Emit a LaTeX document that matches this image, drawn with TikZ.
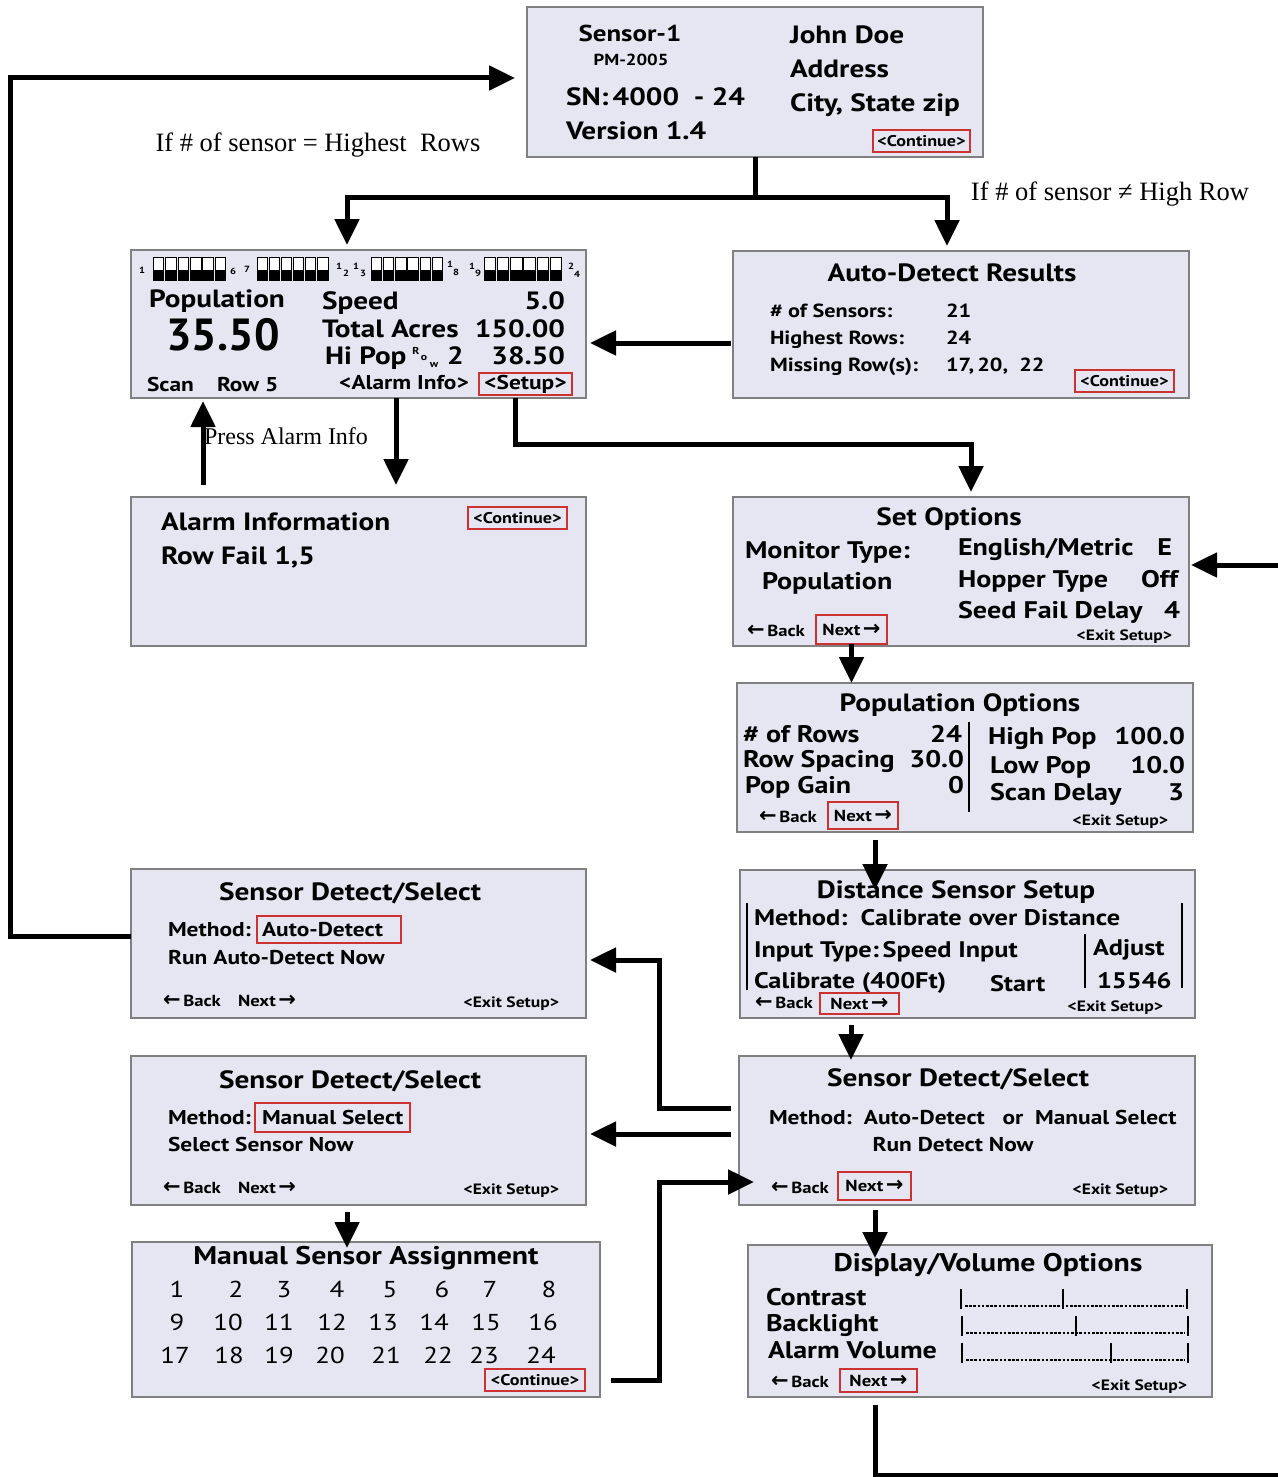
\documentclass[tikz,border=0pt]{standalone}
\usepackage{fontspec}
\setmainfont{PT Sans}[FakeStretch=1.17]
\newfontfamily\ptplain{PT Sans}
\newfontfamily\tms{Liberation Serif}
\newfontfamily\arrfont{DejaVu Sans}
\usetikzlibrary{arrows.meta}
\definecolor{lcd}{RGB}{230,230,242}
\definecolor{frame}{RGB}{128,128,128}
\definecolor{hl}{RGB}{205,50,50}
\newcommand{\la}{{\arrfont\bfseries\fontsize{21}{21}\selectfont ←}}
\newcommand{\ra}{{\arrfont\bfseries\fontsize{21}{21}\selectfont →}}
\newcommand{\fs}[1]{\bfseries\fontsize{#1}{#1}\selectfont}
\begin{document}
\begin{tikzpicture}[x=1pt,y=-1pt,
  screen/.style={draw=frame, fill=lcd, line width=1.3pt, inner sep=0pt, outer sep=0pt},
  hlbox/.style={draw=hl, line width=1.5pt, inner sep=0pt, outer sep=0pt},
  tx/.style={inner sep=0pt, outer sep=0pt},
  f/.style={font=\fs{#1}, yshift={-0.25*#1}},
  L/.style={tx, anchor=mid west},
  R/.style={tx, anchor=mid east},
  C/.style={tx, anchor=mid},
  conn/.style={line width=5pt, draw=black},
  arr/.style={-{Triangle[length=26pt,width=24pt]}},
  lbl/.style={tx, anchor=mid, yshift=-5.5, font=\tms\fontsize{26.5}{26.5}\selectfont},
  num/.style={tx, anchor=mid, yshift=-5.5, font=\fontsize{23}{23}\selectfont},
  rule/.style={line width=2.5pt},
]
\useasboundingbox (0,0) rectangle (1277,1477);
\fill[white] (0,0) rectangle (1277,1477);

% ---------- screens ----------
\node[screen, minimum width=456pt, minimum height=150pt] (top) at (755,82) {};
\node[screen, minimum width=455pt, minimum height=148pt] (pop) at (358.5,324) {};
\node[screen, minimum width=456pt, minimum height=147pt] (auto) at (961,324.5) {};
\node[screen, minimum width=455pt, minimum height=149pt] (alarm) at (358.5,571.5) {};
\node[screen, minimum width=456pt, minimum height=149pt] (setopt) at (961,571.5) {};
\node[screen, minimum width=456pt, minimum height=149pt] (popopt) at (965,757.5) {};
\node[screen, minimum width=455pt, minimum height=148pt] (dist) at (967.5,944) {};
\node[screen, minimum width=455pt, minimum height=149pt] (sdsL1) at (358.5,943.5) {};
\node[screen, minimum width=455pt, minimum height=149pt] (sdsL2) at (358.5,1130.5) {};
\node[screen, minimum width=456pt, minimum height=149pt] (sdsR) at (967,1130.5) {};
\node[screen, minimum width=468pt, minimum height=155pt] (manual) at (366,1319.5) {};
\node[screen, minimum width=464pt, minimum height=152pt] (disp) at (980,1321) {};

% ---------- top screen ----------
\node[C, f=23] (t1) at (630,33) {Sensor-1};
\node[C, f=16] (t2) at (631,59) {PM-2005};
\node[L, f=25] (t3) at (566,97) {SN:\,4000\ \ - 24};
\node[L, f=25] (t4) at (566,131) {Version 1.4};
\node[L, f=25] (t5) at (790,35) {John Doe};
\node[L, f=25] (t6) at (790,69) {Address};
\node[L, f=25] (t7) at (790,103) {City, State zip};
\node[hlbox, minimum width=97pt, minimum height=22pt, font=\fs{15.5}] (c1) at (921.5,141) {<Continue>};

% ---------- population screen ----------
\foreach \gx/\pt in {153/12.4, 257/12.1, 371/12.2, 484/13.2} {
  \foreach \i in {0,...,5} {
    \fill[white] (\gx+\i*\pt,257) rectangle ++(\pt-1.8,13);
    \fill[black] (\gx+\i*\pt,270) rectangle ++(\pt-1.8,10);
    \draw[line width=0.6pt] (\gx+\i*\pt,257) rectangle ++(\pt-1.8,23);
  }
}
\node[C, f=9] (r1) at (142,269) {1};
\node[C, f=9] (r2) at (233,270) {6};
\node[C, f=9] (r3) at (247,268) {7};
\node[C, f=9] (r4) at (339,265) {1};
\node[C, f=9] (r5) at (346,272) {2};
\node[C, f=9] (r6) at (356,265) {1};
\node[C, f=9] (r7) at (363,272) {3};
\node[C, f=9] (r8) at (450,263) {1};
\node[C, f=9] (r9) at (456,271) {8};
\node[C, f=9] (r10) at (472,265) {1};
\node[C, f=9] (r11) at (478,272) {9};
\node[C, f=9] (r12) at (571,265) {2};
\node[C, f=9] (r13) at (577,273) {4};

\node[C, f=25] (p1) at (217,299) {Population};
\node[C, yshift=-12, font=\ptplain\bfseries\fontsize{45}{45}\selectfont] (p2) at (223,336) {35.50};
\node[L, f=20] (p3) at (147,384) {Scan};
\node[L, f=20] (p4) at (217,384) {Row 5};
\node[L, f=25] (p5) at (322,301) {Speed};
\node[R, f=25] (p6) at (565,301) {5.0};
\node[L, f=25] (p7) at (322,329) {Total Acres};
\node[R, f=25] (p8) at (565,329) {150.00};
\node[L, f=25] (p9) at (325,356) {Hi Pop};
\node[C, f=10] (p10) at (416,349) {R};
\node[C, f=10] (p11) at (424,355) {o};
\node[C, f=10] (p12) at (434,362) {w};
\node[L, f=25] (p13) at (447,356) {2};
\node[R, f=25] (p14) at (565,356) {38.50};
\node[C, f=20] (p15) at (404,382) {<Alarm Info>};
\node[hlbox, minimum width=93pt, minimum height=22pt, font=\fs{20}] (setup) at (525.5,384) {<Setup>};

% ---------- auto-detect results ----------
\node[C, f=25] (a1) at (952,273) {Auto-Detect Results};
\node[L, f=19] (a2) at (770,310) {\# of Sensors:};
\node[L, f=19] (a3) at (946,310) {21};
\node[L, f=19] (a4) at (770,337) {Highest Rows:};
\node[L, f=19] (a5) at (946,337) {24};
\node[L, f=19] (a6) at (770,364) {Missing Row(s):};
\node[L, f=19] (a7) at (946,364) {17,\,20,\ \ 22};
\node[hlbox, minimum width=99pt, minimum height=22pt, font=\fs{15.5}] (c2) at (1124.5,381) {<Continue>};

% ---------- alarm information ----------
\node[L, f=25] (al1) at (161,522) {Alarm Information};
\node[L, f=25] (al2) at (161,556) {Row Fail 1,5};
\node[hlbox, minimum width=99pt, minimum height=22pt, font=\fs{15.5}] (c3) at (517.5,518) {<Continue>};

% ---------- set options ----------
\node[C, f=25] (s1) at (949,517) {Set Options};
\node[L, f=24] (s2) at (745,550) {Monitor Type:};
\node[L, f=24] (s3) at (762,581) {Population};
\node[L, f=24] (s4) at (958,547) {English/Metric};
\node[R, f=24] (s5) at (1172,547) {E};
\node[L, f=24] (s6) at (958,579) {Hopper Type};
\node[R, f=24] (s7) at (1178,579) {Off};
\node[L, f=24] (s8) at (958,610) {Seed Fail Delay};
\node[R, f=24] (s9) at (1180,610) {4};
\node[L, f=16] (s10) at (747,630) {\la\,Back};
\node[hlbox, minimum width=71pt, minimum height=29pt, font=\fs{16}] (nextSO) at (851.5,629.5) {Next\,\ra};
\node[R, f=15] (s11) at (1172,634) {<Exit Setup>};

% ---------- population options ----------
\node[C, f=25] (o1) at (960,703) {Population Options};
\node[L, f=24] (o2) at (743,734) {\# of Rows};
\node[R, f=24] (o3) at (962,734) {24};
\node[L, f=24] (o4) at (743,759) {Row Spacing};
\node[R, f=24] (o5) at (964,759) {30.0};
\node[L, f=24] (o6) at (745,785) {Pop Gain};
\node[R, f=24] (o7) at (964,785) {0};
\node[L, f=24] (o8) at (988,736) {High Pop};
\node[R, f=24] (o9) at (1185,736) {100.0};
\node[L, f=24] (o10) at (990,765) {Low Pop};
\node[R, f=24] (o11) at (1185,765) {10.0};
\node[L, f=24] (o12) at (990,792) {Scan Delay};
\node[R, f=24] (o13) at (1184,792) {3};
\draw[rule] (969,722) -- (969,812);
\node[L, f=16] (o14) at (759,816) {\la\,Back};
\node[hlbox, minimum width=70pt, minimum height=27pt, font=\fs{16}] (nextPO) at (863,815.5) {Next\,\ra};
\node[R, f=15] (o15) at (1168,819) {<Exit Setup>};

% ---------- distance sensor setup ----------
\node[C, f=25] (d1) at (956,890) {Distance Sensor Setup};
\node[L, f=22.5] (d2) at (754,917) {Method:\ \ Calibrate over Distance};
\node[L, f=22.5] (d3) at (754,949) {Input Type:\,Speed Input};
\node[L, f=22.5] (d4) at (754,980) {Calibrate (400Ft)};
\node[L, f=22.5] (d5) at (990,983) {Start};
\node[L, f=22.5] (d6) at (1093,947) {Adjust};
\node[L, f=22.5] (d7) at (1097,980) {15546};
\draw[rule] (747,903) -- (747,990);
\draw[rule] (1182,903) -- (1182,988);
\draw[rule] (1085,934) -- (1085,988);
\node[L, f=16] (d8) at (755,1002) {\la\,Back};
\node[hlbox, minimum width=79pt, minimum height=21pt, font=\fs{16}] (nextD) at (859.5,1003.5) {Next\,\ra};
\node[R, f=15] (d9) at (1163,1005) {<Exit Setup>};

% ---------- sensor detect/select (auto) ----------
\node[C, f=25] (e1) at (350,892) {Sensor Detect/Select};
\node[L, f=20] (e2) at (168,929) {Method:};
\node[hlbox, minimum width=144pt, minimum height=27pt] (autoHL) at (329,929.5) {};
\node[L, f=20] (e2b) at (262,929) {Auto-Detect};
\node[L, f=20] (e3) at (168,957) {Run Auto-Detect Now};
\node[L, f=16] (e4) at (163,1000) {\la\,Back};
\node[L, f=16] (e5) at (238,1000) {Next\,\ra};
\node[R, f=15] (e6) at (559,1001) {<Exit Setup>};

% ---------- sensor detect/select (manual) ----------
\node[C, f=25] (f1) at (350,1080) {Sensor Detect/Select};
\node[L, f=20] (f2) at (168,1117) {Method:};
\node[hlbox, minimum width=155pt, minimum height=29pt] (manHL) at (332.5,1117.5) {};
\node[L, f=20] (f2b) at (262,1117) {Manual Select};
\node[L, f=20] (f3) at (168,1144) {Select Sensor Now};
\node[L, f=16] (f4) at (163,1187) {\la\,Back};
\node[L, f=16] (f5) at (238,1187) {Next\,\ra};
\node[R, f=15] (f6) at (559,1188) {<Exit Setup>};

% ---------- sensor detect/select (right) ----------
\node[C, f=25] (g1) at (958,1078) {Sensor Detect/Select};
\node[L, f=20] (g2) at (769,1117) {Method:\ \ Auto-Detect\ \ \ or\ \ Manual Select};
\node[C, f=20] (g3) at (953,1144) {Run Detect Now};
\node[L, f=16] (g4) at (771,1187) {\la\,Back};
\node[hlbox, minimum width=73pt, minimum height=28pt, font=\fs{16}] (nextR) at (874.5,1186) {Next\,\ra};
\node[R, f=15] (g5) at (1168,1188) {<Exit Setup>};

% ---------- manual sensor assignment ----------
\node[C, f=25.5] (h1) at (366,1256) {Manual Sensor Assignment};
\foreach \n/\x/\y in {1/177/1289, 2/236/1289, 3/284/1289, 4/337/1289, 5/390/1289, 6/442/1289, 7/490/1289, 8/549/1289,
  9/177/1322, 10/228/1322, 11/279/1322, 12/332/1322, 13/383/1322, 14/434/1322, 15/486/1322, 16/543/1322,
  17/175/1355, 18/229/1355, 19/279/1355, 20/330/1355, 21/386/1355, 22/438/1355, 23/484/1355, 24/541/1355}
  \node[num] (n\n) at (\x,\y) {\n};
\node[hlbox, minimum width=100pt, minimum height=22pt, font=\fs{15.5}] (c4) at (535,1380) {<Continue>};

% ---------- display/volume ----------
\node[C, f=25.5] (k1) at (988,1263) {Display/Volume Options};
\node[L, f=24] (k2) at (766,1297) {Contrast};
\node[L, f=24] (k3) at (766,1323) {Backlight};
\node[L, f=24] (k4) at (768,1350) {Alarm Volume};
\foreach \yy/\xa/\xm/\xb in {1299/961/1063/1187, 1326/962/1076/1188, 1353/962/1111/1188} {
  \draw[line width=2.2pt] (\xa,\yy-10) -- (\xa,\yy+10) (\xm,\yy-10) -- (\xm,\yy+10) (\xb,\yy-10) -- (\xb,\yy+10);
  \draw[line width=2.6pt, dash pattern=on 2.6pt off 1.6pt] (\xa+4,\yy+7) -- (\xb-3,\yy+7);
}
\node[L, f=16] (k5) at (771,1381) {\la\,Back};
\node[hlbox, minimum width=77pt, minimum height=23pt, font=\fs{16}] (nextDV) at (878.5,1380.5) {Next\,\ra};
\node[R, f=15] (k6) at (1187,1384) {<Exit Setup>};

% ---------- connectors ----------
\coordinate (jTop) at (755,197);
\coordinate (jL) at (347,197);
\coordinate (jR) at (947,197);
\draw[conn] (top.south) -- (jTop);
\draw[conn, arr, shorten >=5pt] (jTop) -- (jL) -- (jL |- pop.north);
\draw[conn, arr, shorten >=5pt] (jTop) -- (jR) -- (jR |- auto.north);

\coordinate (lp1) at (10,936);
\coordinate (lp2) at (10,78);
\draw[conn, arr, shorten >=12pt] (sdsL1.west |- lp1) -- (lp1) -- (lp2) -- (top.west |- lp2);

\coordinate (ap) at (0,343);
\draw[conn, arr, shorten <=2pt, shorten >=4pt] (auto.west |- ap) -- (pop.east |- ap);

\coordinate (pa) at (396,0);
\draw[conn, arr, shorten >=12pt] (pop.south -| pa) -- (alarm.north -| pa);
\coordinate (ap2) at (203,0);
\draw[conn, arr, shorten <=12pt, shorten >=3pt] (alarm.north -| ap2) -- (pop.south -| ap2);

\coordinate (su1) at (515,444);
\coordinate (su2) at (971,444);
\draw[conn, arr, shorten >=5pt] (pop.south -| su1) -- (su1) -- (su2) -- (su2 |- setopt.north);

\coordinate (ri) at (1290,565);
\draw[conn, arr, shorten >=2pt] (ri) -- (setopt.east |- ri);

\draw[conn, arr] (nextSO.south) -- (popopt.north -| nextSO.south);

\coordinate (pd) at (875,0);
\draw[conn, arr, shorten <=8pt, shorten >=-20pt] (popopt.south -| pd) -- (dist.north -| pd);

\coordinate (ds) at (851,0);
\draw[conn, arr, shorten <=7pt, shorten >=-4pt] (dist.south -| ds) -- (sdsR.north -| ds);

\coordinate (b1) at (659,1108);
\coordinate (b2) at (659,960);
\draw[conn, arr, shorten <=8pt, shorten >=4pt] (sdsR.west |- b1) -- (b1) -- (b2) -- (sdsL1.east |- b2);

\coordinate (b3) at (0,1134);
\draw[conn, arr, shorten <=8pt, shorten >=4pt] (sdsR.west |- b3) -- (sdsL2.east |- b3);

\coordinate (lm) at (347,0);
\draw[conn, arr, shorten <=7pt, shorten >=-6pt] (sdsL2.south -| lm) -- (manual.north -| lm);

\coordinate (m1) at (659,1380);
\coordinate (m2) at (659,1182);
\draw[conn, arr, shorten <=11pt, shorten >=-15pt] (manual.east |- m1) -- (m1) -- (m2) -- (sdsR.west |- m2);

\coordinate (rd) at (875,0);
\draw[conn, arr, shorten <=5pt, shorten >=-13pt] (sdsR.south -| rd) -- (disp.north -| rd);

\coordinate (d1c) at (875,1475);
\coordinate (d2c) at (1290,1475);
\draw[conn, shorten <=8pt] (disp.south -| d1c) -- (d1c) -- (d2c);

% ---------- labels ----------
\node[lbl] (L1) at (318,143) {If \# of sensor = Highest\ \ Rows};
\node[lbl] (L2) at (1110,192) {If \# of sensor ≠ High Row};
\node[lbl, font=\tms\fontsize{24}{24}\selectfont] (L3) at (286,436) {Press Alarm Info};
\end{tikzpicture}
\end{document}
